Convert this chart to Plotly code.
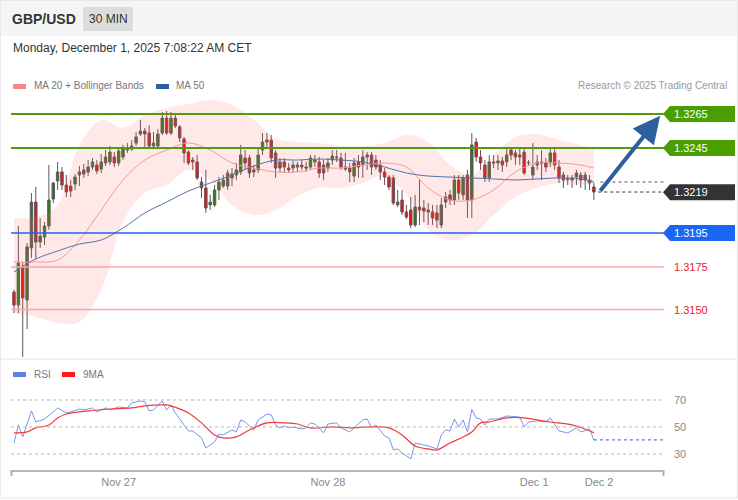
import plotly.graph_objects as go

W, H = 738, 500

# ---------------- data ----------------
candle_idx = list(range(134))
opens = [1.31603,1.31526,1.31756,1.31556,1.31862,1.32132,1.31897,1.31926,1.31991,1.32150,
         1.32256,1.32309,1.32232,1.32226,1.32238,1.32291,1.32321,1.32309,1.32338,1.32350,
         1.32326,1.32362,1.32368,1.32397,1.32362,1.32397,1.32438,1.32444,1.32479,1.32532,
         1.32550,1.32538,1.32462,1.32462,1.32538,1.32626,1.32538,1.32626,1.32574,1.32503,
         1.32426,1.32379,1.32368,1.32250,1.32215,1.32115,1.32115,1.32203,1.32226,1.32226,
         1.32297,1.32291,1.32309,1.32391,1.32391,1.32321,1.32321,1.32438,1.32497,1.32497,
         1.32421,1.32332,1.32368,1.32332,1.32332,1.32350,1.32350,1.32338,1.32338,1.32368,
         1.32368,1.32350,1.32332,1.32379,1.32391,1.32391,1.32338,1.32332,1.32285,1.32368,
         1.32350,1.32397,1.32409,1.32379,1.32350,1.32309,1.32279,1.32274,1.32115,1.32144,
         1.32074,1.32085,1.31997,1.32103,1.32097,1.32085,1.32074,1.32068,1.31997,1.32132,
         1.32174,1.32144,1.32262,1.32174,1.32291,1.32144,1.32485,1.32397,1.32350,1.32274,
         1.32368,1.32362,1.32374,1.32368,1.32438,1.32421,1.32409,1.32426,1.32362,1.32291,
         1.32350,1.32368,1.32362,1.32362,1.32421,1.32338,1.32291,1.32268,1.32274,1.32279,
         1.32291,1.32262,1.32262,1.32221]
highs = [1.31615,1.31991,1.31779,1.31891,1.32185,1.32221,1.32038,1.32015,1.32350,1.32250,
         1.32368,1.32338,1.32291,1.32262,1.32297,1.32344,1.32356,1.32379,1.32391,1.32379,
         1.32415,1.32438,1.32462,1.32426,1.32450,1.32468,1.32479,1.32497,1.32544,1.32615,
         1.32568,1.32585,1.32544,1.32562,1.32662,1.32668,1.32662,1.32656,1.32585,1.32515,
         1.32438,1.32397,1.32409,1.32279,1.32321,1.32174,1.32232,1.32279,1.32291,1.32321,
         1.32332,1.32362,1.32468,1.32438,1.32409,1.32350,1.32450,1.32538,1.32538,1.32526,
         1.32438,1.32391,1.32391,1.32362,1.32374,1.32368,1.32379,1.32368,1.32409,1.32409,
         1.32397,1.32379,1.32391,1.32438,1.32438,1.32421,1.32421,1.32362,1.32391,1.32409,
         1.32438,1.32426,1.32426,1.32409,1.32379,1.32332,1.32291,1.32291,1.32203,1.32203,
         1.32115,1.32162,1.32174,1.32262,1.32144,1.32126,1.32115,1.32115,1.32156,1.32191,
         1.32203,1.32291,1.32291,1.32291,1.32321,1.32538,1.32509,1.32438,1.32379,1.32409,
         1.32409,1.32409,1.32397,1.32450,1.32456,1.32438,1.32456,1.32450,1.32379,1.32479,
         1.32409,1.32438,1.32391,1.32450,1.32456,1.32379,1.32309,1.32291,1.32291,1.32321,
         1.32309,1.32309,1.32291,1.32244]
lows = [1.31479,1.31479,1.31221,1.31385,1.31803,1.31797,1.31862,1.31879,1.31968,1.32126,
        1.32203,1.32203,1.32162,1.32162,1.32203,1.32226,1.32274,1.32285,1.32321,1.32297,
        1.32303,1.32344,1.32350,1.32338,1.32344,1.32379,1.32421,1.32432,1.32462,1.32521,
        1.32456,1.32450,1.32450,1.32456,1.32526,1.32526,1.32526,1.32568,1.32485,1.32362,
        1.32350,1.32321,1.32262,1.32156,1.32068,1.32085,1.32103,1.32144,1.32215,1.32203,
        1.32226,1.32262,1.32291,1.32321,1.32274,1.32279,1.32303,1.32409,1.32450,1.32362,
        1.32274,1.32309,1.32309,1.32303,1.32309,1.32309,1.32321,1.32309,1.32321,1.32338,
        1.32274,1.32262,1.32309,1.32350,1.32368,1.32321,1.32315,1.32250,1.32250,1.32274,
        1.32274,1.32321,1.32291,1.32321,1.32262,1.32232,1.32203,1.32115,1.32103,1.32056,
        1.32032,1.31979,1.31985,1.31997,1.32015,1.31997,1.31997,1.31979,1.31979,1.32097,
        1.32115,1.32115,1.32144,1.32144,1.32038,1.32038,1.32368,1.32321,1.32250,1.32250,
        1.32332,1.32321,1.32309,1.32338,1.32379,1.32350,1.32350,1.32291,1.32344,1.32262,
        1.32321,1.32262,1.32309,1.32338,1.32321,1.32244,1.32215,1.32232,1.32215,1.32232,
        1.32215,1.32203,1.32203,1.32144]
closes = [1.31526,1.31774,1.31568,1.31868,1.32132,1.31897,1.31932,1.31991,1.32144,1.32244,
          1.32309,1.32232,1.32191,1.32197,1.32279,1.32309,1.32297,1.32338,1.32368,1.32315,
          1.32368,1.32397,1.32426,1.32362,1.32432,1.32444,1.32446,1.32462,1.32515,1.32550,
          1.32532,1.32462,1.32479,1.32532,1.32626,1.32538,1.32626,1.32579,1.32509,1.32421,
          1.32362,1.32368,1.32274,1.32215,1.32097,1.32132,1.32203,1.32250,1.32262,1.32303,
          1.32274,1.32321,1.32409,1.32362,1.32303,1.32309,1.32409,1.32485,1.32485,1.32391,
          1.32332,1.32368,1.32338,1.32321,1.32350,1.32338,1.32338,1.32332,1.32391,1.32379,
          1.32303,1.32303,1.32362,1.32403,1.32397,1.32338,1.32326,1.32309,1.32362,1.32338,
          1.32397,1.32409,1.32338,1.32338,1.32309,1.32279,1.32221,1.32126,1.32132,1.32074,
          1.32044,1.31997,1.32103,1.32085,1.32079,1.32074,1.32038,1.32026,1.32115,1.32162,
          1.32144,1.32262,1.32185,1.32274,1.32144,1.32468,1.32397,1.32362,1.32274,1.32368,
          1.32362,1.32374,1.32350,1.32409,1.32409,1.32397,1.32397,1.32303,1.32365,1.32338,
          1.32368,1.32362,1.32338,1.32421,1.32350,1.32274,1.32262,1.32265,1.32262,1.32303,
          1.32262,1.32291,1.32244,1.32191]

band_idx = [0,5,10,15,20,25,30,35,40,45,50,55,60,65,70,75,80,85,90,95,100,105,110,115,120,125,130,133]
bb_upper = [1.32038,1.32044,1.32115,1.32468,1.32615,1.32568,1.32644,1.32685,1.32709,1.32732,
            1.32703,1.32615,1.32509,1.32485,1.32479,1.32462,1.32462,1.32479,1.32526,1.32485,
            1.32350,1.32291,1.32409,1.32515,1.32532,1.32497,1.32468,1.32450]
bb_lower = [1.31479,1.31456,1.31421,1.31426,1.31615,1.32015,1.32185,1.32232,1.32321,1.32262,
            1.32115,1.32056,1.32085,1.32168,1.32215,1.32215,1.32244,1.32285,1.32174,1.31968,
            1.31909,1.31938,1.32056,1.32162,1.32215,1.32244,1.32238,1.32232]
ma20 = [1.31779,1.31779,1.31791,1.31909,1.32085,1.32262,1.32379,1.32438,1.32479,1.32438,
        1.32362,1.32332,1.32309,1.32309,1.32332,1.32332,1.32350,1.32362,1.32338,1.32215,
        1.32144,1.32144,1.32203,1.32309,1.32362,1.32362,1.32350,1.32332]
ma50 = [1.31721,1.31797,1.31844,1.31885,1.31909,1.31979,1.32068,1.32132,1.32197,1.32244,
        1.32291,1.32344,1.32379,1.32379,1.32385,1.32379,1.32368,1.32338,1.32303,1.32285,
        1.32279,1.32274,1.32268,1.32262,1.32268,1.32274,1.32268,1.32250]

rsi_idx = [0,1,2,3,4,5,7,9,10,12,13,15,16,18,19,21,22,24,26,27,29,30,31,32,34,35,36,37,39,40,
           41,43,44,46,47,48,50,51,52,53,55,56,58,59,60,61,62,63,64,66,67,68,69,71,72,74,75,77,
           78,80,81,82,83,84,85,86,87,88,89,91,92,94,95,97,98,99,100,101,102,103,104,105,106,
           107,108,109,111,113,115,116,117,118,120,122,123,125,127,129,130,132,133]
rsi_vals = [38.1,51.5,42.6,53.0,61.9,53.7,55.9,61.1,64.1,60.4,61.1,63.3,62.6,64.1,61.1,64.1,62.6,
            64.8,64.1,67.8,69.3,68.5,61.9,62.6,69.3,62.6,66.3,60.4,51.5,47.0,47.0,41.9,34.4,38.9,
            44.8,44.1,47.8,46.3,55.2,53.7,47.8,55.2,59.6,58.9,51.5,49.3,50.7,49.3,50.0,48.5,49.3,
            53.0,52.2,45.6,52.2,53.0,49.3,46.3,49.3,55.2,55.9,49.3,51.5,47.0,43.3,41.9,33.0,33.7,
            30.7,26.3,38.1,36.7,35.9,33.7,44.1,47.8,47.0,55.9,49.9,55.2,46.3,63.0,56.7,55.9,51.5,
            55.9,55.9,58.1,57.4,57.4,50.0,53.7,54.4,53.7,56.7,47.0,45.6,49.3,46.3,48.5,40.4]
ma9_idx = [0,3,5,8,10,12,17,22,27,30,35,36,40,43,46,48,51,54,58,62,65,68,73,77,82,86,89,92,95,97,
           100,103,105,107,109,113,117,120,123,128,131,133]
ma9_vals = [45.6,46.3,49.3,51.5,56.7,59.6,61.9,63.3,64.1,65.6,66.3,65.6,60.4,53.0,44.1,41.9,42.6,
            47.8,53.0,53.0,52.2,49.3,50.0,49.3,50.0,49.3,44.1,35.9,33.7,33.0,38.1,42.6,46.3,53.0,
            53.7,56.7,56.7,55.2,53.7,51.5,48.5,45.6]

resistances = [1.3265, 1.3245]
pivot = 1.3195
supports = [1.3175, 1.3150]
last_price = 1.3219
target_idx = 148.2
target_price = 1.3264
rsi_levels = [70, 50, 30]
tick_pos = [24, 72, 119.3, 134.2]
tick_text = ["Nov 27", "Nov 28", "Dec 1", "Dec 2"]

# ---------------- layout helpers ----------------
def fx(px):
    return px / W

def fy(py):
    return 1 - py / H

X_RANGE = [-0.69, 149.08]
Y_RANGE = [1.312147, 1.329559]
R_RANGE = [18.1, 81.1]
FONT = "Liberation Sans, Arial, sans-serif"

fig = go.Figure()

# Bollinger band
fig.add_trace(go.Scatter(x=band_idx, y=bb_upper, mode="lines", line=dict(width=0, shape="spline"),
                         hoverinfo="skip", showlegend=False, xaxis="x", yaxis="y"))
fig.add_trace(go.Scatter(x=band_idx, y=bb_lower, mode="lines", line=dict(width=0, shape="spline"),
                         fill="tonexty", fillcolor="rgba(255,100,100,0.15)",
                         hoverinfo="skip", showlegend=False, xaxis="x", yaxis="y"))
fig.add_trace(go.Scatter(x=band_idx, y=ma20, mode="lines", line=dict(width=1, color="#f39a9a", shape="spline"),
                         showlegend=False, xaxis="x", yaxis="y"))
fig.add_trace(go.Scatter(x=band_idx, y=ma50, mode="lines", line=dict(width=1, color="#5275ad", shape="spline"),
                         showlegend=False, xaxis="x", yaxis="y"))

fig.add_trace(go.Candlestick(
    x=candle_idx, open=opens, high=highs, low=lows, close=closes,
    increasing=dict(line=dict(color="#5a5a5a", width=1), fillcolor="#2a7d14"),
    decreasing=dict(line=dict(color="#6a5050", width=1), fillcolor="#ea1118"),
    whiskerwidth=0, showlegend=False, xaxis="x", yaxis="y"))

# dotted projections
fig.add_trace(go.Scatter(x=[candle_idx[-1] + 1, X_RANGE[1]], y=[closes[-1], closes[-1]], mode="lines",
                         line=dict(color="#333333", width=1, dash="dot"), showlegend=False,
                         xaxis="x", yaxis="y"))
fig.add_trace(go.Scatter(x=[candle_idx[-1] + 1.5, X_RANGE[1]], y=[ma50[-1], ma50[-1]], mode="lines",
                         line=dict(color="#555555", width=1, dash="dot"), showlegend=False,
                         xaxis="x", yaxis="y"))

# RSI
fig.add_trace(go.Scatter(x=rsi_idx, y=rsi_vals, mode="lines", line=dict(color="#7896ea", width=1),
                         showlegend=False, xaxis="x2", yaxis="y2"))
fig.add_trace(go.Scatter(x=ma9_idx, y=ma9_vals, mode="lines", line=dict(color="#f23b3b", width=1.2, shape="spline"),
                         showlegend=False, xaxis="x2", yaxis="y2"))
fig.add_trace(go.Scatter(x=[rsi_idx[-1], X_RANGE[1]], y=[rsi_vals[-1], rsi_vals[-1]], mode="lines",
                         line=dict(color="#5b7fe0", width=1.2, dash="dot"), showlegend=False,
                         xaxis="x2", yaxis="y2"))

shapes = []
annotations = []

# header
shapes.append(dict(type="rect", xref="paper", yref="paper", x0=0, x1=1, y0=fy(36), y1=1,
                   fillcolor="#f5f5f5", line=dict(width=0), layer="below"))
shapes.append(dict(type="rect", xref="paper", yref="paper", x0=fx(83), x1=fx(133), y0=fy(31), y1=fy(7),
                   fillcolor="#dcdcdc", line=dict(width=0), layer="below"))
annotations.append(dict(text="<b>GBP/USD</b>", x=fx(10), y=fy(19), xref="paper", yref="paper",
                        xanchor="left", yanchor="middle", showarrow=False, font=dict(size=14, color="#333")))
annotations.append(dict(text="30 MIN", x=fx(108), y=fy(19), xref="paper", yref="paper",
                        xanchor="center", yanchor="middle", showarrow=False, font=dict(size=12, color="#333")))
annotations.append(dict(text="Monday, December 1, 2025 7:08:22 AM CET", x=fx(11), y=fy(48), xref="paper",
                        yref="paper", xanchor="left", yanchor="middle", showarrow=False,
                        font=dict(size=12, color="#333")))
# separators / border
shapes.append(dict(type="line", xref="paper", yref="paper", x0=0, x1=1, y0=fy(359), y1=fy(359),
                   line=dict(color="#e3e3e3", width=1)))
shapes.append(dict(type="rect", xref="paper", yref="paper", x0=0.0005, x1=0.9995, y0=fy(498), y1=0.999,
                   line=dict(color="#e6e6e6", width=1)))

# legends
shapes.append(dict(type="rect", xref="paper", yref="paper", x0=fx(13), x1=fx(26), y0=fy(89), y1=fy(84),
                   fillcolor="#ff8585", line=dict(width=0)))
annotations.append(dict(text="MA 20 + Bollinger Bands", x=fx(32), y=fy(86), xref="paper", yref="paper",
                        xanchor="left", yanchor="middle", showarrow=False, font=dict(size=10, color="#777")))
shapes.append(dict(type="rect", xref="paper", yref="paper", x0=fx(156), x1=fx(169), y0=fy(89), y1=fy(84),
                   fillcolor="#2f5d9e", line=dict(width=0)))
annotations.append(dict(text="MA 50", x=fx(174), y=fy(86), xref="paper", yref="paper",
                        xanchor="left", yanchor="middle", showarrow=False, font=dict(size=10, color="#777")))
annotations.append(dict(text="Research © 2025 Trading Central", x=fx(729), y=fy(86), xref="paper", yref="paper",
                        xanchor="right", yanchor="middle", showarrow=False, font=dict(size=10, color="#999")))
shapes.append(dict(type="rect", xref="paper", yref="paper", x0=fx(13), x1=fx(26), y0=fy(377), y1=fy(372),
                   fillcolor="#5b82e0", line=dict(width=0)))
annotations.append(dict(text="RSI", x=fx(32), y=fy(374), xref="paper", yref="paper",
                        xanchor="left", yanchor="middle", showarrow=False, font=dict(size=10, color="#777")))
shapes.append(dict(type="rect", xref="paper", yref="paper", x0=fx(62), x1=fx(75), y0=fy(377), y1=fy(372),
                   fillcolor="#ff1a1a", line=dict(width=0)))
annotations.append(dict(text="9MA", x=fx(81), y=fy(374), xref="paper", yref="paper",
                        xanchor="left", yanchor="middle", showarrow=False, font=dict(size=10, color="#777")))

# price level lines and tags
TAG_H = 0.00047
def tag(price, color):
    path = (f"M {fx(663)},{price} L {fx(670)},{price + TAG_H} L {fx(735)},{price + TAG_H} "
            f"L {fx(735)},{price - TAG_H} L {fx(670)},{price - TAG_H} Z")
    shapes.append(dict(type="path", xref="paper", yref="y", path=path, fillcolor=color, line=dict(width=0)))
    annotations.append(dict(text=f"{price:.4f}", x=fx(672), y=price, xref="paper", yref="y",
                            xanchor="left", yanchor="middle", showarrow=False,
                            font=dict(size=11, color="white")))

for r in resistances:
    shapes.append(dict(type="line", xref="paper", yref="y", x0=fx(11), x1=fx(664), y0=r, y1=r,
                       line=dict(color="#4f9d0b", width=2)))
    tag(r, "#4a9e00")
shapes.append(dict(type="line", xref="paper", yref="y", x0=fx(11), x1=fx(664), y0=pivot, y1=pivot,
                   line=dict(color="#1f63f0", width=1.5)))
tag(pivot, "#1a66f5")
for s in supports:
    shapes.append(dict(type="line", xref="paper", yref="y", x0=fx(11), x1=fx(664), y0=s, y1=s,
                       line=dict(color="#ffa5a5", width=1.5)))
    annotations.append(dict(text=f"{s:.4f}", x=fx(672), y=s, xref="paper", yref="y",
                            xanchor="left", yanchor="middle", showarrow=False,
                            font=dict(size=11, color="#e8202a")))
tag(last_price, "#333333")

# forecast arrow
annotations.append(dict(text="", x=target_idx, y=target_price, xref="x", yref="y",
                        ax=candle_idx[-1] + 1.2, ay=last_price, axref="x", ayref="y",
                        showarrow=True, arrowhead=2, arrowsize=1.35, arrowwidth=4, arrowcolor="#2d5e9f"))

# RSI grid / labels
for lv in rsi_levels:
    shapes.append(dict(type="line", xref="paper", yref="y2", x0=fx(11), x1=fx(664), y0=lv, y1=lv,
                       line=dict(color="#b5b5b5", width=1, dash="dot")))
    annotations.append(dict(text=str(lv), x=fx(672), y=lv, xref="paper", yref="y2",
                            xanchor="left", yanchor="middle", showarrow=False,
                            font=dict(size=11, color="#888")))
for px in (11.5, 663.5):
    shapes.append(dict(type="line", xref="paper", yref="paper", x0=fx(px), x1=fx(px), y0=fy(470), y1=fy(476),
                       line=dict(color="#b0b0b0", width=2)))

fig.update_layout(
    width=W, height=H, margin=dict(l=0, r=0, t=0, b=0),
    paper_bgcolor="white", plot_bgcolor="rgba(0,0,0,0)",
    font=dict(family=FONT, color="#333"),
    showlegend=False, boxgap=0.2,
    shapes=shapes, annotations=annotations,
    xaxis=dict(domain=[fx(11), fx(664)], range=X_RANGE, visible=False, anchor="y",
               rangeslider=dict(visible=False), fixedrange=True),
    yaxis=dict(domain=[fy(358), fy(62)], range=Y_RANGE, visible=False, anchor="x"),
    xaxis2=dict(domain=[fx(11), fx(664)], range=X_RANGE, anchor="y2", showline=True, linecolor="#b8b8b8",
                linewidth=2, showgrid=False, zeroline=False, tickvals=tick_pos, ticktext=tick_text,
                ticks="outside", ticklen=1, tickcolor="rgba(0,0,0,0)",
                tickfont=dict(size=11, color="#888")),
    yaxis2=dict(domain=[fy(470), fy(385)], range=R_RANGE, visible=False, anchor="x2"),
)

fig.write_html("out.html", config={"displayModeBar": False},
               post_script="document.body.style.margin='0';document.body.style.overflow='hidden';")
